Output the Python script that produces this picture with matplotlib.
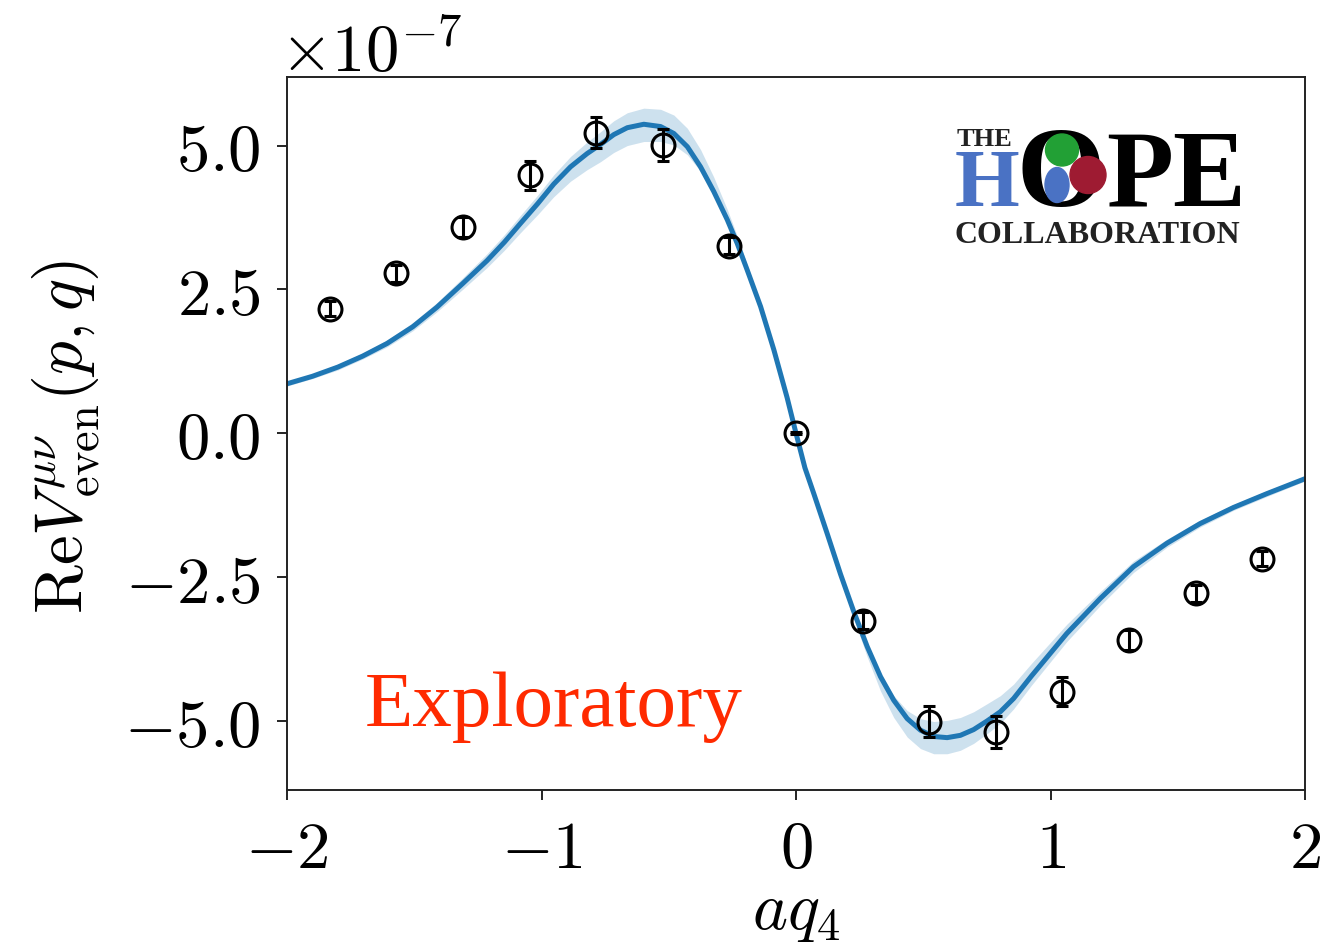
import matplotlib
matplotlib.use("Agg")
import matplotlib.pyplot as plt
from matplotlib.patches import Ellipse

# ---------------- data (values in units of 1e-7) ----------------
curve_x = [-2.000, -1.900, -1.800, -1.703, -1.607, -1.506, -1.411, -1.310, -1.214, -1.146,
           -1.084, -1.015, -0.952, -0.886, -0.821, -0.768, -0.716, -0.663, -0.598, -0.532,
           -0.480, -0.427, -0.375, -0.323, -0.270, -0.231, -0.192, -0.139, -0.087, -0.035,
           0.000,
           0.035, 0.070, 0.123, 0.175, 0.227, 0.280, 0.332, 0.384, 0.437, 0.489,
           0.541, 0.594, 0.646, 0.698, 0.751, 0.803, 0.855, 0.925, 1.064, 1.196,
           1.326, 1.458, 1.588, 1.719, 1.850, 2.000]
curve_y = [0.86, 0.99, 1.15, 1.34, 1.56, 1.85, 2.19, 2.60, 3.00, 3.32,
           3.64, 3.99, 4.33, 4.63, 4.86, 5.02, 5.19, 5.31, 5.37, 5.33,
           5.21, 4.98, 4.63, 4.20, 3.71, 3.30, 2.84, 2.20, 1.45, 0.62,
           0.00,
           -0.60, -1.05, -1.75, -2.45, -3.10, -3.71, -4.23, -4.64, -4.96, -5.16,
           -5.27, -5.29, -5.25, -5.15, -5.00, -4.84, -4.61, -4.22, -3.48, -2.87,
           -2.32, -1.91, -1.57, -1.29, -1.05, -0.79]
band_up = [0.04, 0.04, 0.05, 0.05, 0.06, 0.07, 0.08, 0.10, 0.12, 0.13,
           0.14, 0.15, 0.16, 0.18, 0.20, 0.22, 0.24, 0.26, 0.28, 0.30,
           0.32, 0.32, 0.30, 0.25, 0.18, 0.13, 0.09, 0.05, 0.03, 0.01,
           0.00,
           0.00, 0.01, 0.01, 0.02, 0.02, 0.03, 0.05, 0.08, 0.14, 0.20,
           0.26, 0.30, 0.31, 0.31, 0.30, 0.28, 0.25, 0.22, 0.16, 0.12,
           0.10, 0.07, 0.06, 0.05, 0.05, 0.04]
band_down = [0.04, 0.04, 0.05, 0.05, 0.06, 0.07, 0.08, 0.10, 0.12, 0.14,
             0.16, 0.19, 0.22, 0.25, 0.28, 0.30, 0.31, 0.31, 0.30, 0.26,
             0.20, 0.14, 0.08, 0.05, 0.03, 0.02, 0.02, 0.01, 0.01, 0.00,
             0.00,
             0.01, 0.03, 0.05, 0.08, 0.12, 0.18, 0.25, 0.30, 0.32, 0.32,
             0.30, 0.28, 0.26, 0.24, 0.22, 0.20, 0.18, 0.16, 0.14, 0.12,
             0.10, 0.07, 0.06, 0.05, 0.05, 0.04]

pts_x = [-1.833, -1.571, -1.309, -1.047, -0.785, -0.524, -0.262, 0.0,
         0.262, 0.524, 0.785, 1.047, 1.309, 1.571, 1.833]
pts_y = [2.16, 2.78, 3.58, 4.48, 5.22, 5.01, 3.26, 0.0,
         -3.26, -5.01, -5.19, -4.49, -3.59, -2.78, -2.18]
pts_err = [0.13, 0.15, 0.17, 0.25, 0.27, 0.28, 0.15, 0.02,
           0.15, 0.27, 0.28, 0.25, 0.17, 0.15, 0.13]

xticks = [-2, -1, 0, 1, 2]
xticklabels = [r'$-2$', r'$-1$', r'$0$', r'$1$', r'$2$']
yticks = [-5.0, -2.5, 0.0, 2.5, 5.0]
yticklabels = [r'$-5.0$', r'$-2.5$', r'$0.0$', r'$2.5$', r'$5.0$']

# ---------------- style ----------------
plt.rcParams['mathtext.fontset'] = 'cm'
plt.rcParams['font.family'] = ['DejaVu Serif']

W, H = 1320, 943
fig = plt.figure(figsize=(W / 100, H / 100), dpi=100)
ax = fig.add_axes([287 / W, 1 - 790 / H, (1305 - 287) / W, (790 - 76.5) / H])

lo = [y - e for y, e in zip(curve_y, band_down)]
hi = [y + e for y, e in zip(curve_y, band_up)]
ax.fill_between(curve_x, lo, hi, color='#1f77b4', alpha=0.22, lw=0)
ax.plot(curve_x, curve_y, color='#1f77b4', lw=3.6, solid_joinstyle='round')
ax.errorbar(pts_x, pts_y, yerr=pts_err, fmt='o', mfc='none', mec='black',
            ecolor='black', ms=16.5, mew=2.2, elinewidth=2.2, capsize=4.5,
            capthick=2.2, zorder=5)

ax.set_xlim(-2, 2)
ax.set_ylim(-6.2, 6.2)
ax.set_xticks(xticks)
ax.set_xticklabels(xticklabels)
ax.set_yticks(yticks)
ax.set_yticklabels(yticklabels)
ax.tick_params(axis='both', labelsize=48, length=7, width=1.2, pad=12)
for s in ax.spines.values():
    s.set_linewidth(1.4)
    s.set_color('#222222')

ax.set_xlabel(r'$aq_4$', fontsize=48)
ax.xaxis.set_label_coords(0.5, -0.125)
ax.set_ylabel(r'$\mathrm{Re}V^{\mu\nu}_{\mathrm{even}}(p,q)$', fontsize=48)
ax.yaxis.set_label_coords(-0.182, 0.495)

ax.text(-0.007, 1.0063, r'$\times10^{-7}$', transform=ax.transAxes,
        ha='left', va='baseline', fontsize=48)

# ---------------- overlay (pixel coordinates) ----------------
ov = fig.add_axes([0, 0, 1, 1], zorder=10)
ov.set_xlim(0, W)
ov.set_ylim(H, 0)
ov.axis('off')

ov.text(365, 726, 'Exploratory', family='Liberation Serif', fontsize=57,
        color='#ff2a00', ha='left', va='baseline')

serif_b = dict(family='Liberation Serif', weight='bold', va='baseline', ha='left')
ov.text(957, 146, 'THE', fontsize=19, color='#222222', **serif_b)
ov.text(955, 206, 'H', fontsize=60, color='#4a72c4', **serif_b)
ov.text(1017, 206, 'O', fontsize=82, color='black', **serif_b)
ov.text(1106, 206, 'PE', fontsize=79, color='black', **serif_b)
ov.text(955, 243, 'COLLABORATION', fontsize=23, color='#222222', **serif_b)
ov.add_patch(Ellipse((1062, 150), 33, 32, color='#22a035', zorder=11))
ov.add_patch(Ellipse((1057, 185), 24, 35, color='#4a72c4', zorder=11))
ov.add_patch(Ellipse((1088, 175), 36, 37, color='#9e1b32', zorder=11))

fig.savefig('out.png', dpi=100)
